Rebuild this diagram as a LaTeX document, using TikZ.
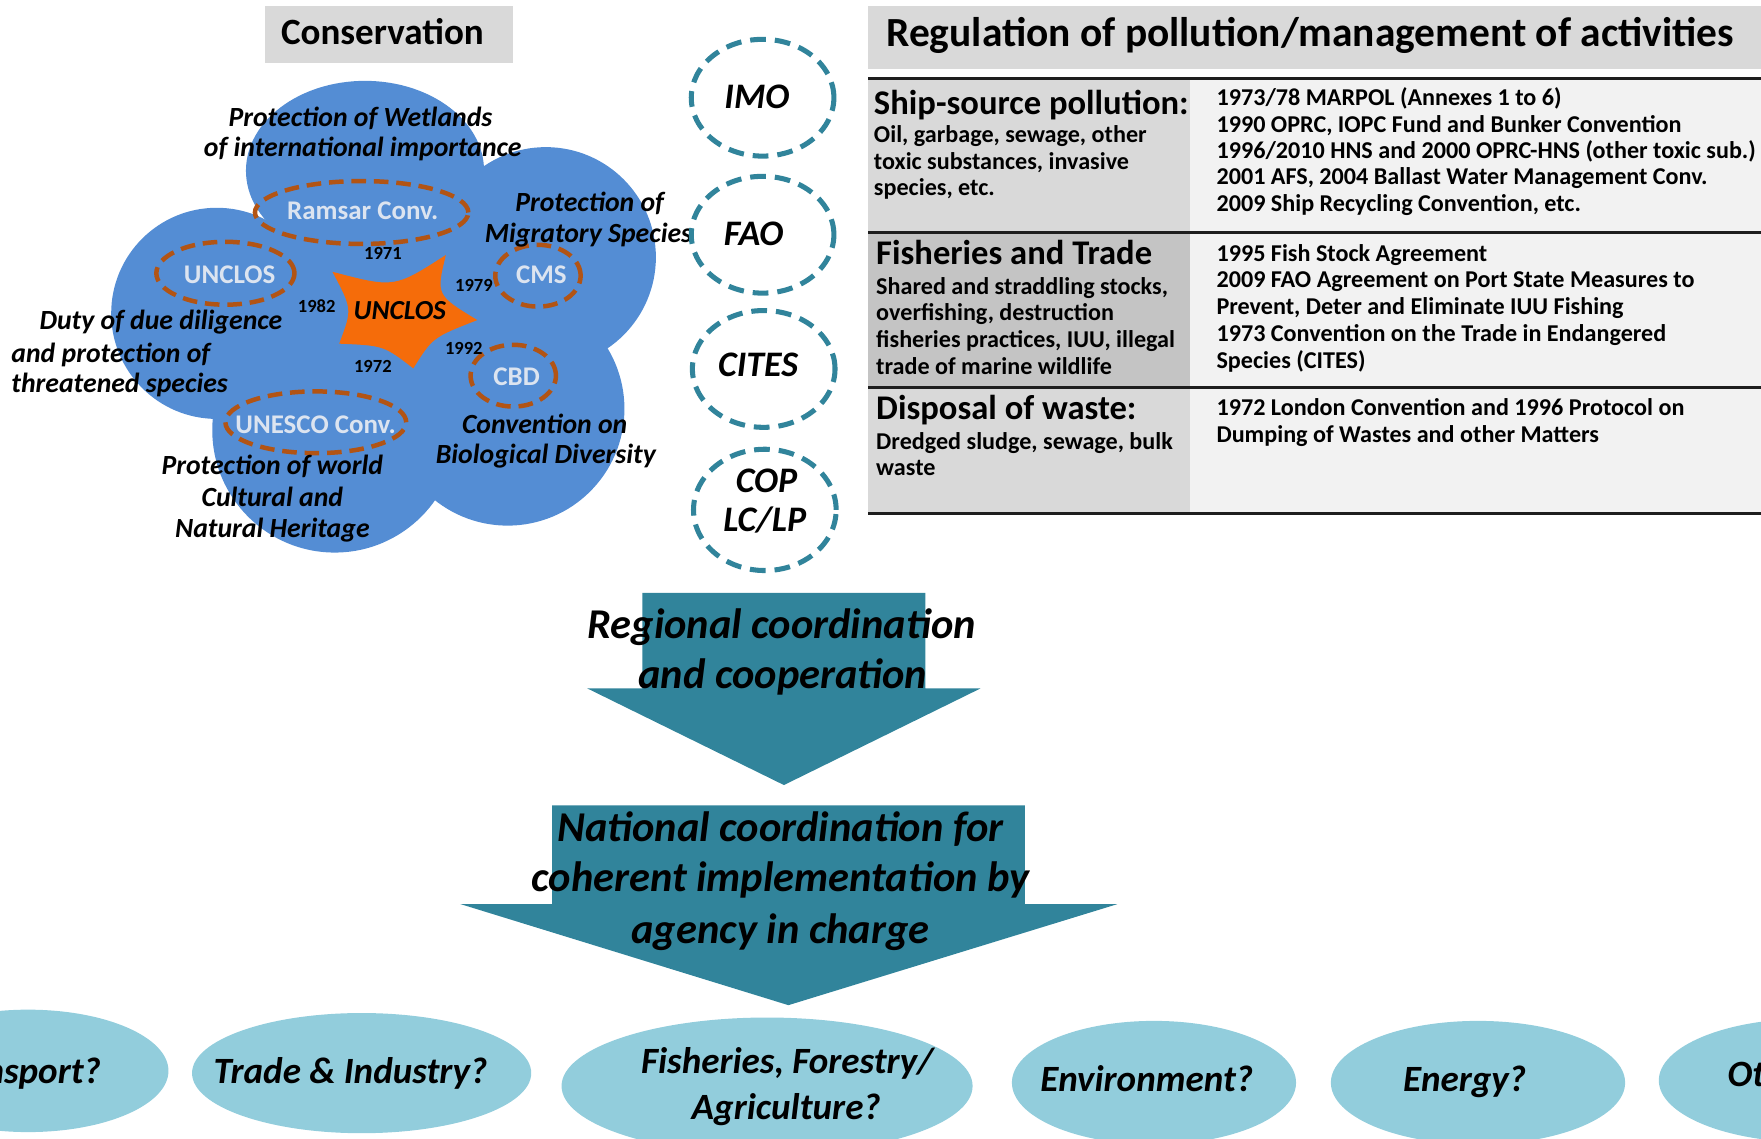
\documentclass[tikz,border=0pt]{standalone}
\usepackage{fontspec}
\setmainfont{Carlito}
\usetikzlibrary{shapes.geometric}

\definecolor{blobblue}{RGB}{84,141,212}
\definecolor{starorange}{RGB}{245,108,10}
\definecolor{rustline}{RGB}{178,84,20}
\definecolor{agencyteal}{RGB}{49,132,155}
\definecolor{sectorblue}{RGB}{146,205,220}
\definecolor{headgray}{RGB}{217,217,217}
\definecolor{darkcell}{RGB}{196,196,196}
\definecolor{lightcell}{RGB}{242,242,242}
\definecolor{ringtext}{RGB}{220,228,240}
\definecolor{rulecolor}{RGB}{30,30,30}

\tikzset{
  ring/.style={ellipse, draw=rustline, line width=4pt, dash pattern=on 13pt off 7pt, inner sep=0pt},
  ringname/.style={anchor=base, inner sep=0pt, text=ringtext, font=\bfseries\fontsize{24}{28}\selectfont},
  year/.style={inner sep=0pt, font=\bfseries\fontsize{16.5}{18}\selectfont},
  theme/.style={anchor=base, inner sep=0pt, font=\bfseries\itshape\fontsize{24.7}{28}\selectfont},
  agency/.style={ellipse, draw=agencyteal, line width=4.5pt, dash pattern=on 14pt off 8pt, minimum width=127pt, minimum height=104pt, inner sep=0pt},
  agencyname/.style={anchor=base, inner sep=0pt, font=\bfseries\itshape\fontsize{32}{36}\selectfont},
  headbox/.style={fill=headgray, inner sep=0pt},
  headtext/.style={inner sep=0pt, font=\bfseries\fontsize{33}{38}\selectfont},
  rowhead/.style={anchor=base west, inner sep=0pt, font=\bfseries\fontsize{30.8}{34}\selectfont},
  rowtext/.style={anchor=base west, inner sep=0pt, font=\bfseries\fontsize{21.5}{24}\selectfont},
  tablerule/.style={draw=rulecolor, line width=3pt},
  flowarrow/.style={fill=agencyteal},
  flowtext/.style={anchor=base, inner sep=0pt, font=\bfseries\itshape\fontsize{37.8}{42}\selectfont},
  sector/.style={ellipse, fill=sectorblue, inner sep=0pt},
  sectorname/.style={anchor=base, inner sep=0pt, font=\bfseries\itshape\fontsize{33}{38}\selectfont},
}

\begin{document}
\begin{tikzpicture}[x=1pt,y=-1pt]
\useasboundingbox (0,0) rectangle (1568,1014);
\clip (0,0) rectangle (1568,1014);

% ---------- Conservation cluster ----------
\node[headbox, minimum width=221pt, minimum height=51pt] (conshead) at (346.5,30.5) {};
\node[headtext, anchor=base] (constitle) at (340.5,39.2) {Conservation};

\fill[blobblue] (325,152) ellipse [x radius=106pt, y radius=80pt];
\fill[blobblue] (486,229) circle [radius=98pt];
\fill[blobblue] (452,364) circle [radius=104pt];
\fill[blobblue] (298,383) circle [radius=109pt];
\fill[blobblue] (193,279) circle [radius=94pt];
\fill[blobblue] (335,285) circle [radius=130pt];

% central star
\fill[starorange] (296,242) .. controls (351.2,256.5) .. (397,227)
  .. controls (388.3,262.7) .. (425,285)
  .. controls (385.2,300.5) .. (368,328)
  .. controls (341.7,307.7) .. (302,306)
  .. controls (313.7,275.3) .. (296,242) -- cycle;
\node[theme, font=\bfseries\itshape\fontsize{24.5}{28}\selectfont] (unclosstar) at (356,284.3) {UNCLOS};

% conventions
\node[ring, minimum width=190pt, minimum height=56pt] (ramsarring) at (322,189.2) {};
\node[ring, minimum width=123pt, minimum height=56pt] (unclosring) at (200.7,243.3) {};
\node[ring, minimum width=76pt, minimum height=55pt] (cmsring) at (479,245.5) {};
\node[ring, minimum width=76pt, minimum height=55pt] (cbdring) at (457,334.5) {};
\node[ring, minimum width=161pt, minimum height=55pt] (unescoring) at (281.2,376) {};
\node[ringname] (ramsar) at (323,195.3) {Ramsar Conv.};
\node[ringname] (unclos) at (204.5,252.5) {UNCLOS};
\node[ringname] (cms) at (482,252.5) {CMS};
\node[ringname] (cbd) at (460,343.2) {CBD};
\node[ringname] (unesco) at (281,386.1) {UNESCO Conv.};

% years of adoption
\node[year] (y1971) at (341,225.7) {1971};
\node[year] (y1982) at (282,272.8) {1982};
\node[year] (y1979) at (422,254.4) {1979};
\node[year] (y1992) at (413,310) {1992};
\node[year] (y1972) at (332,326) {1972};

% themes
\node[theme] (wet1) at (321,112.7) {Protection of Wetlands};
\node[theme] (wet2) at (323,139.7) {of international importance};
\node[theme] (mig1) at (525,188.7) {Protection of};
\node[theme] (mig2) at (524,215.7) {Migratory Species};
\node[theme, anchor=base west] (duty1) at (35,293.7) {Duty of due diligence};
\node[theme, anchor=base west] (duty2) at (10,322.7) {and protection of};
\node[theme, anchor=base west] (duty3) at (10,349.7) {threatened species};
\node[theme] (bio1) at (485,386.1) {Convention on};
\node[theme] (bio2) at (486,413.1) {Biological Diversity};
\node[theme] (her1) at (242.5,422.7) {Protection of world};
\node[theme] (her2) at (242.5,451.3) {Cultural and};
\node[theme] (her3) at (242.5,478.3) {Natural Heritage};

% ---------- agencies ----------
\node[agency] (imo) at (679,87) {};
\node[agency] (fao) at (679,209) {};
\node[agency] (cites) at (680,328.5) {};
\node[agency, minimum height=108pt] (cop) at (681,454) {};
\node[agencyname] (imotext) at (674,96.3) {IMO};
\node[agencyname] (faotext) at (671,218.9) {FAO};
\node[agencyname] (citestext) at (675,335) {CITES};
\node[agencyname] (coptext) at (682.6,438.3) {COP};
\node[agencyname] (lctext) at (681,473.3) {LC/LP};

% ---------- regulation table ----------
\node[headbox, minimum width=795pt, minimum height=56pt] (reghead) at (1170.5,33) {};
\node[headtext, anchor=base west, font=\bfseries\fontsize{36.9}{40}\selectfont] (regtitle) at (789,41.5) {Regulation of pollution/management of activities};

\fill[headgray] (773,70) rectangle (1060,207);
\fill[darkcell] (773,207) rectangle (1060,345);
\fill[headgray] (773,345) rectangle (1060,457);
\fill[lightcell] (1060,70) rectangle (1568,457);
\draw[tablerule] (773,70) -- (1568,70);
\draw[tablerule] (773,207) -- (1568,207);
\draw[tablerule] (773,345) -- (1568,345);
\draw[tablerule] (773,457) -- (1568,457);

\node[rowhead] (shiphead) at (778,101.7) {Ship-source pollution:};
\foreach \t [count=\k] in {{Oil, garbage, sewage, other},{toxic substances, invasive},{species, etc.}}
  \node[rowtext] (shipissue\k) at (778,103+23.8*\k) {\t};
\foreach \t [count=\k] in {{1973/78 MARPOL (Annexes 1 to 6)},{1990 OPRC, IOPC Fund and Bunker Convention},{1996/2010 HNS and 2000 OPRC-HNS (other toxic sub.)},{2001 AFS, 2004 Ballast Water Management Conv.},{2009 Ship Recycling Convention, etc.}}
  \node[rowtext] (shiplaw\k) at (1083,70.9+23.4*\k) {\t};

\node[rowhead] (fishhead) at (780,235.3) {Fisheries and Trade};
\foreach \t [count=\k] in {{Shared and straddling stocks,},{overfishing, destruction},{fisheries practices, IUU, illegal},{trade of marine wildlife}}
  \node[rowtext] (fishissue\k) at (780,238+23.8*\k) {\t};
\foreach \t [count=\k] in {{1995 Fish Stock Agreement},{2009 FAO Agreement on Port State Measures to},{Prevent, Deter and Eliminate IUU Fishing},{1973 Convention on the Trade in Endangered},{Species (CITES)}}
  \node[rowtext] (fishlaw\k) at (1083,208.4+24*\k) {\t};

\node[rowhead] (wastehead) at (780,373.3) {Disposal of waste:};
\foreach \t [count=\k] in {{Dredged sludge, sewage, bulk},{waste}}
  \node[rowtext] (wasteissue\k) at (780,376+23.8*\k) {\t};
\foreach \t [count=\k] in {{1972 London Convention and 1996 Protocol on},{Dumping of Wastes and other Matters}}
  \node[rowtext] (wastelaw\k) at (1083,346.7+23.7*\k) {\t};

% ---------- coordination arrows ----------
\fill[flowarrow] (572,528) -- (824,528) -- (824,613) -- (873,613) -- (698,699)
  -- (523,613) -- (572,613) -- cycle;
\node[flowtext] (reg1) at (696,568.4) {Regional coordination};
\node[flowtext] (reg2) at (697,612.9) {and cooperation};

\fill[flowarrow] (491.5,717) -- (912.5,717) -- (912.5,805) -- (995,805) -- (702,895)
  -- (410,805) -- (491.5,805) -- cycle;
\node[flowtext] (nat1) at (695,748.9) {National coordination for};
\node[flowtext] (nat2) at (695,793.9) {coherent implementation by};
\node[flowtext] (nat3) at (695,839.9) {agency in charge};

% ---------- sectors ----------
\node[sector, minimum width=250pt, minimum height=109pt] (transport) at (25,953.5) {};
\node[sector, minimum width=302pt, minimum height=107pt] (trade) at (322,955.5) {};
\node[sector, minimum width=366pt, minimum height=122pt] (fisheries) at (683,967) {};
\node[sector, minimum width=253pt, minimum height=110pt] (environment) at (1027.5,964) {};
\node[sector, minimum width=262pt, minimum height=110pt] (energy) at (1316,964) {};
\node[sector, minimum width=266pt, minimum height=110pt] (others) at (1610,962) {};

\node[sectorname, anchor=base east] (transporttext) at (90,965) {Transport?};
\node[sectorname] (tradetext) at (312,965) {Trade \& Industry?};
\node[sectorname] (fish1) at (701,956) {Fisheries, Forestry/};
\node[sectorname] (fish2) at (700,997) {Agriculture?};
\node[sectorname] (envtext) at (1021,972) {Environment?};
\node[sectorname] (energytext) at (1304,972) {Energy?};
\node[sectorname, anchor=base west] (otherstext) at (1538,967.5) {Others?};
\end{tikzpicture}
\end{document}
